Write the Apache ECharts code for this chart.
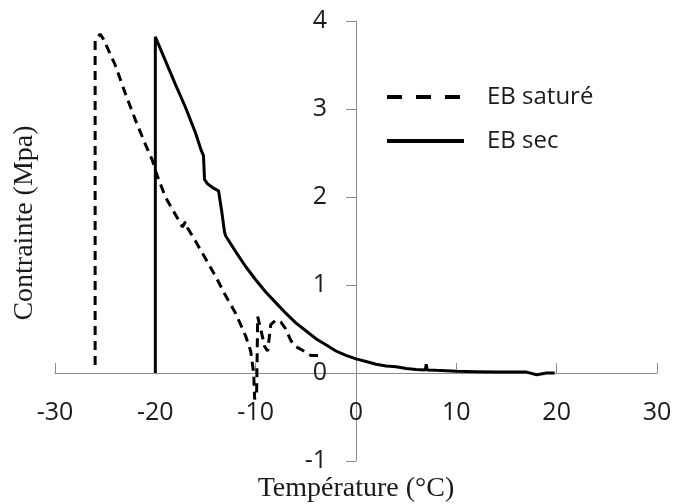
<!DOCTYPE html>
<html>
<head>
<meta charset="utf-8">
<script src="https://cdn.jsdelivr.net/npm/echarts@6/dist/echarts.min.js"></script>
<style>
  html, body { margin: 0; padding: 0; background: #fff; }
  #chart { width: 676px; height: 504px; }
</style>
</head>
<body>
<div id="chart"></div>
<script>
// axes
var xTicks = [-30, -20, -10, 0, 10, 20, 30];
var yTicks = [-1, 0, 1, 2, 3, 4];
var seriesNames = ['EB saturé', 'EB sec'];

// EB saturé (dashed) : [température, contrainte]
var ebSature = [
  [-26, 0.09], [-26, 3.78], [-25.5, 3.85], [-25.2, 3.8], [-24, 3.5], [-23, 3.18],
  [-22, 2.88], [-21, 2.6], [-20.3, 2.42], [-20, 2.3], [-19, 2.0], [-18, 1.8],
  [-17.3, 1.66], [-17, 1.72], [-16.8, 1.65], [-16, 1.5], [-15, 1.3], [-14, 1.1],
  [-13, 0.88], [-12, 0.68], [-11, 0.42], [-10.5, 0.25], [-10.2, 0], [-10.1, -0.3],
  [-9.9, -0.2], [-9.8, 0.64], [-9.5, 0.5], [-9.1, 0.3], [-8.8, 0.25], [-8.5, 0.55],
  [-8, 0.6], [-7.5, 0.58], [-7, 0.5], [-6.5, 0.37], [-6, 0.3], [-5.2, 0.25],
  [-4.5, 0.2], [-3.7, 0.2]
];

// EB sec (solid)
var ebSec = [
  [-20, 0], [-20, 3.82], [-19, 3.55], [-18, 3.28], [-17, 3.02], [-16, 2.73],
  [-15.4, 2.52], [-15.2, 2.47], [-15.1, 2.2], [-14.8, 2.15], [-14.2, 2.1], [-13.7, 2.07],
  [-13.4, 1.85], [-13.1, 1.6], [-13, 1.56], [-12, 1.38], [-11, 1.21], [-10, 1.06],
  [-9, 0.92], [-8, 0.8], [-7, 0.68], [-6, 0.57], [-5, 0.48], [-4, 0.39], [-3, 0.32],
  [-2, 0.25], [-1, 0.2], [0, 0.16], [1, 0.13], [2, 0.1], [3, 0.08], [4, 0.07],
  [5, 0.05], [6, 0.04], [6.9, 0.035], [7, 0.1], [7.1, 0.035], [8, 0.03], [10, 0.02],
  [12, 0.015], [14, 0.01], [16, 0.01], [17, 0.01], [18, -0.02], [19, 0], [19.8, 0]
];

var chart = echarts.init(document.getElementById('chart'));
var axisColor = '#8c8c8c';
var textColor = '#1a1a1a';
var noSymbol = { color: 'rgba(0,0,0,0)', borderWidth: 0, opacity: 0 };

// plot area
var gridBox = { left: 55, right: 19, top: 21, bottom: 43 };
var plotW = 676 - gridBox.left - gridBox.right;
var plotH = 504 - gridBox.top - gridBox.bottom;
var xMin = xTicks[0], xMax = xTicks[xTicks.length - 1];
var yMin = yTicks[0], yMax = yTicks[yTicks.length - 1];
// axes cross at zero: move them inward from the grid edges
var yAxisShift = -plotW * (0 - xMin) / (xMax - xMin);
var xAxisShift = -plotH * (0 - yMin) / (yMax - yMin);

var option = {
  animation: false,
  grid: { left: gridBox.left, right: gridBox.right, top: gridBox.top, bottom: gridBox.bottom, containLabel: false, outerBoundsMode: 'none' },
  legend: {
    orient: 'vertical',
    left: 380,
    top: 80,
    itemWidth: 77,
    itemHeight: 20,
    itemGap: 20,
    textStyle: { fontFamily: 'Open Sans', fontSize: 24, color: textColor, padding: [0, 0, 0, 18] },
    data: [
      { name: seriesNames[0], lineStyle: { type: [15, 14], width: 4 }, itemStyle: noSymbol },
      { name: seriesNames[1], lineStyle: { width: 4 }, itemStyle: noSymbol }
    ]
  },
  xAxis: {
    type: 'value',
    position: 'bottom',
    offset: xAxisShift,
    min: xMin,
    max: xMax,
    interval: 10,
    name: 'Température (°C)',
    nameLocation: 'middle',
    nameGap: 102,
    nameTextStyle: { fontFamily: 'Liberation Serif', fontSize: 28, color: textColor },
    axisLine: { onZero: false, lineStyle: { color: axisColor, width: 1 } },
    axisTick: { show: true, inside: true, length: 10, lineStyle: { color: axisColor } },
    axisLabel: { margin: 27, fontFamily: 'Open Sans', fontSize: 25, color: textColor },
    splitLine: { show: false }
  },
  yAxis: {
    type: 'value',
    position: 'left',
    offset: yAxisShift,
    min: yMin,
    max: yMax,
    interval: 1,
    name: 'Contrainte (Mpa)',
    nameLocation: 'middle',
    nameGap: 317,
    nameRotate: 90,
    nameTextStyle: { fontFamily: 'Liberation Serif', fontSize: 28, color: textColor, padding: [0, 0, 0, 36] },
    axisLine: { onZero: false, lineStyle: { color: axisColor, width: 1 } },
    axisTick: { show: true, inside: false, length: 10, lineStyle: { color: axisColor } },
    axisLabel: { margin: 29, fontFamily: 'Open Sans', fontSize: 25, color: textColor },
    splitLine: { show: false }
  },
  series: [
    {
      name: seriesNames[0],
      type: 'line',
      data: ebSature,
      symbol: 'none',
      lineStyle: { color: '#000', width: 3, type: [9, 6] },
      itemStyle: { color: '#000' }
    },
    {
      name: seriesNames[1],
      type: 'line',
      data: ebSec,
      symbol: 'none',
      lineStyle: { color: '#000', width: 3 },
      itemStyle: { color: '#000' }
    }
  ]
};
chart.setOption(option);
</script>
</body>
</html>
